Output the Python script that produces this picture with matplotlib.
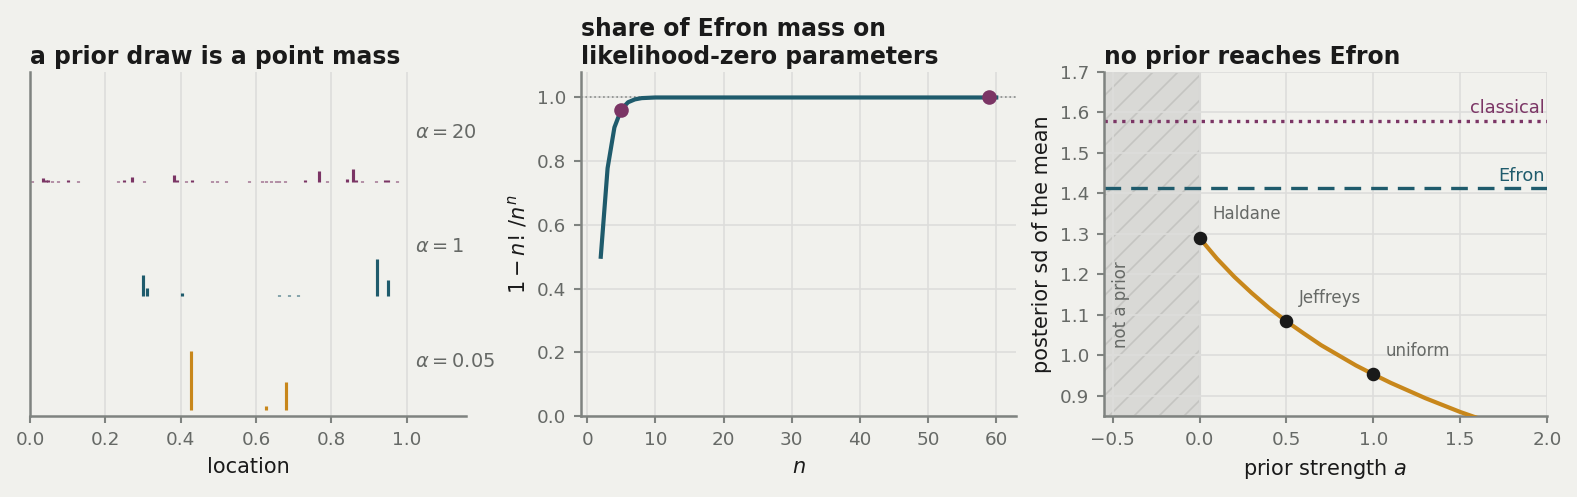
import numpy as np
import matplotlib
matplotlib.use('Agg')
import matplotlib.pyplot as plt

BG = '#f1f1ed'
INK = '#1a1a1a'
GREY = '#666966'
SPINE = '#7f8380'
GRID = '#dddddb'
PURPLE = '#7b3565'
TEAL = '#1f5b6c'
ORANGE = '#c8871b'

plt.rc('font', size=9)
plt.rc('axes', titlesize=11.3, labelsize=10, facecolor=BG, edgecolor=SPINE,
       linewidth=1.2, titleweight='bold', titlecolor=INK, labelcolor=INK)
plt.rc('xtick', labelsize=8.8, color=SPINE, labelcolor=GREY)
plt.rc('ytick', labelsize=8.8, color=SPINE, labelcolor=GREY)
plt.rc('figure', facecolor=BG)
plt.rc('hatch', color='#c4c4c1', linewidth=0.8)

# panel 1: atoms of three prior draws (location, weight)
loc_a20 = [0.005, 0.035, 0.042, 0.048, 0.058, 0.075, 0.100, 0.128, 0.233, 0.250,
           0.272, 0.303, 0.382, 0.390, 0.413, 0.431, 0.482, 0.496, 0.520, 0.582,
           0.616, 0.625, 0.640, 0.652, 0.662, 0.677, 0.730, 0.766, 0.788, 0.842,
           0.857, 0.866, 0.880, 0.918, 0.942, 0.951, 0.973]
w_a20 = [0.011, 0.045, 0.017, 0.017, 0.011, 0.011, 0.017, 0.011, 0.011, 0.022,
         0.055, 0.011, 0.075, 0.017, 0.011, 0.022, 0.011, 0.011, 0.008, 0.008,
         0.011, 0.011, 0.011, 0.008, 0.011, 0.008, 0.015, 0.115, 0.011, 0.033,
         0.140, 0.017, 0.011, 0.008, 0.017, 0.022, 0.008]
loc_a1 = [0.301, 0.311, 0.404, 0.662, 0.686, 0.710, 0.922, 0.949]
w_a1 = [0.225, 0.092, 0.033, 0.011, 0.006, 0.006, 0.408, 0.174]
loc_a005 = [0.428, 0.627, 0.680]
w_a005 = [0.644, 0.044, 0.311]

# panel 2: share 1 - n!/n^n
n_vals = list(range(2, 61))
share = [0.5, 0.778, 0.906, 0.962, 0.985, 0.994, 0.998, 0.999] + [1.0] * 51
n_marked = [5, 59]
share_marked = [0.962, 1.0]

# panel 3: posterior sd against prior strength
a_vals = [0.0, 0.1, 0.2, 0.3, 0.4, 0.5, 0.6, 0.7, 0.8, 0.9, 1.0,
          1.1, 1.2, 1.3, 1.4, 1.5, 1.6, 1.7, 1.8, 1.9, 2.0]
sd_vals = [1.290, 1.239, 1.194, 1.154, 1.117, 1.084, 1.054, 1.025, 1.000, 0.975, 0.953,
           0.932, 0.913, 0.894, 0.877, 0.860, 0.845, 0.830, 0.816, 0.803, 0.790]
named_a = [0.0, 0.5, 1.0]
named_sd = [1.290, 1.084, 0.953]
named_labels = ['Haldane', 'Jeffreys', 'uniform']
sd_classical = 1.58
sd_efron = 1.414

W, H = 1577, 497
fig = plt.figure(figsize=(W / 150, H / 150), dpi=150)
ax1 = fig.add_axes([30 / W, 81 / H, 436 / W, 344 / H])
ax2 = fig.add_axes([581 / W, 81 / H, 435 / W, 344 / H])
ax3 = fig.add_axes([1104 / W, 81 / H, 443 / W, 344 / H])

for ax in (ax1, ax2, ax3):
    ax.spines['top'].set_visible(False)
    ax.spines['right'].set_visible(False)
    ax.tick_params(length=3.5, width=1.0)
    ax.set_axisbelow(True)

# --- panel 1
rows = [(loc_a005, w_a005, ORANGE, r'$\alpha = 0.05$'),
        (loc_a1, w_a1, TEAL, r'$\alpha = 1$'),
        (loc_a20, w_a20, PURPLE, r'$\alpha = 20$')]
for base, (locs, ws, col, lab) in enumerate(rows):
    locs = np.array(locs)
    ws = np.array(ws)
    ax1.vlines(locs, base, base + 0.8 * ws, color=col, lw=1.5)
    ax1.text(1.022, base + 0.43, lab, color=GREY, fontsize=9.3, va='center', ha='left')
ax1.set_xlim(0, 1.157)
ax1.set_ylim(-0.05, 2.96)
ax1.set_yticks([])
ax1.set_xticks([0.0, 0.2, 0.4, 0.6, 0.8, 1.0])
ax1.grid(axis='x', color=GRID, lw=0.8)
ax1.set_xlabel('location')
ax1.set_title('a prior draw is a point mass', loc='left', pad=4)

# --- panel 2
ax2.axhline(1.0, color='#8a8d8a', lw=0.8, ls=':', zorder=1)
ax2.plot(n_vals, share, color=TEAL, lw=2.0, zorder=2)
ax2.plot(n_marked, share_marked, 'o', color=PURPLE, ms=6, zorder=3)
ax2.set_ylim(0, 1.08)
ax2.set_yticks([0.0, 0.2, 0.4, 0.6, 0.8, 1.0])
ax2.grid(color=GRID, lw=0.8)
ax2.set_xlabel('$n$')
ax2.set_ylabel(r'$1 - n!\,/n^n$')
ax2.set_title('share of Efron mass on\nlikelihood-zero parameters', loc='left', pad=4)

# --- panel 3
ax3.axvspan(-0.55, 0.0, facecolor='#d9d9d6', edgecolor='#c4c4c1', hatch='//', lw=1.0, zorder=0.5)
ax3.text(-0.455, 1.125, 'not a prior', rotation=90, color=GREY, fontsize=8,
         ha='center', va='center')
ax3.axhline(sd_classical, color=PURPLE, lw=1.6, ls=':')
ax3.axhline(sd_efron, color=TEAL, lw=1.6, ls=(0, (5, 3)))
ax3.text(1.985, sd_classical + 0.008, 'classical', color=PURPLE, fontsize=8.5,
         ha='right', va='bottom')
ax3.text(1.985, sd_efron + 0.008, 'Efron', color=TEAL, fontsize=8.5,
         ha='right', va='bottom')
ax3.plot(a_vals, sd_vals, color=ORANGE, lw=2.0, zorder=3)
ax3.plot(named_a, named_sd, 'o', color=INK, ms=5.5, zorder=4)
for xa, ys, lab in zip(named_a, named_sd, named_labels):
    ax3.annotate(lab, (xa, ys), xytext=(6, 7), textcoords='offset points',
                 color=GREY, fontsize=8, ha='left', va='bottom')
ax3.set_xlim(-0.55, 2.0)
ax3.set_ylim(0.85, 1.7)
ax3.set_xticks([-0.5, 0.0, 0.5, 1.0, 1.5, 2.0])
ax3.set_yticks([0.9, 1.0, 1.1, 1.2, 1.3, 1.4, 1.5, 1.6, 1.7])
ax3.grid(color=GRID, lw=0.8)
ax3.set_xlabel('prior strength $a$')
ax3.set_ylabel('posterior sd of the mean')
ax3.set_title('no prior reaches Efron', loc='left', pad=4)

fig.savefig('out.png', dpi=150, facecolor=BG)
